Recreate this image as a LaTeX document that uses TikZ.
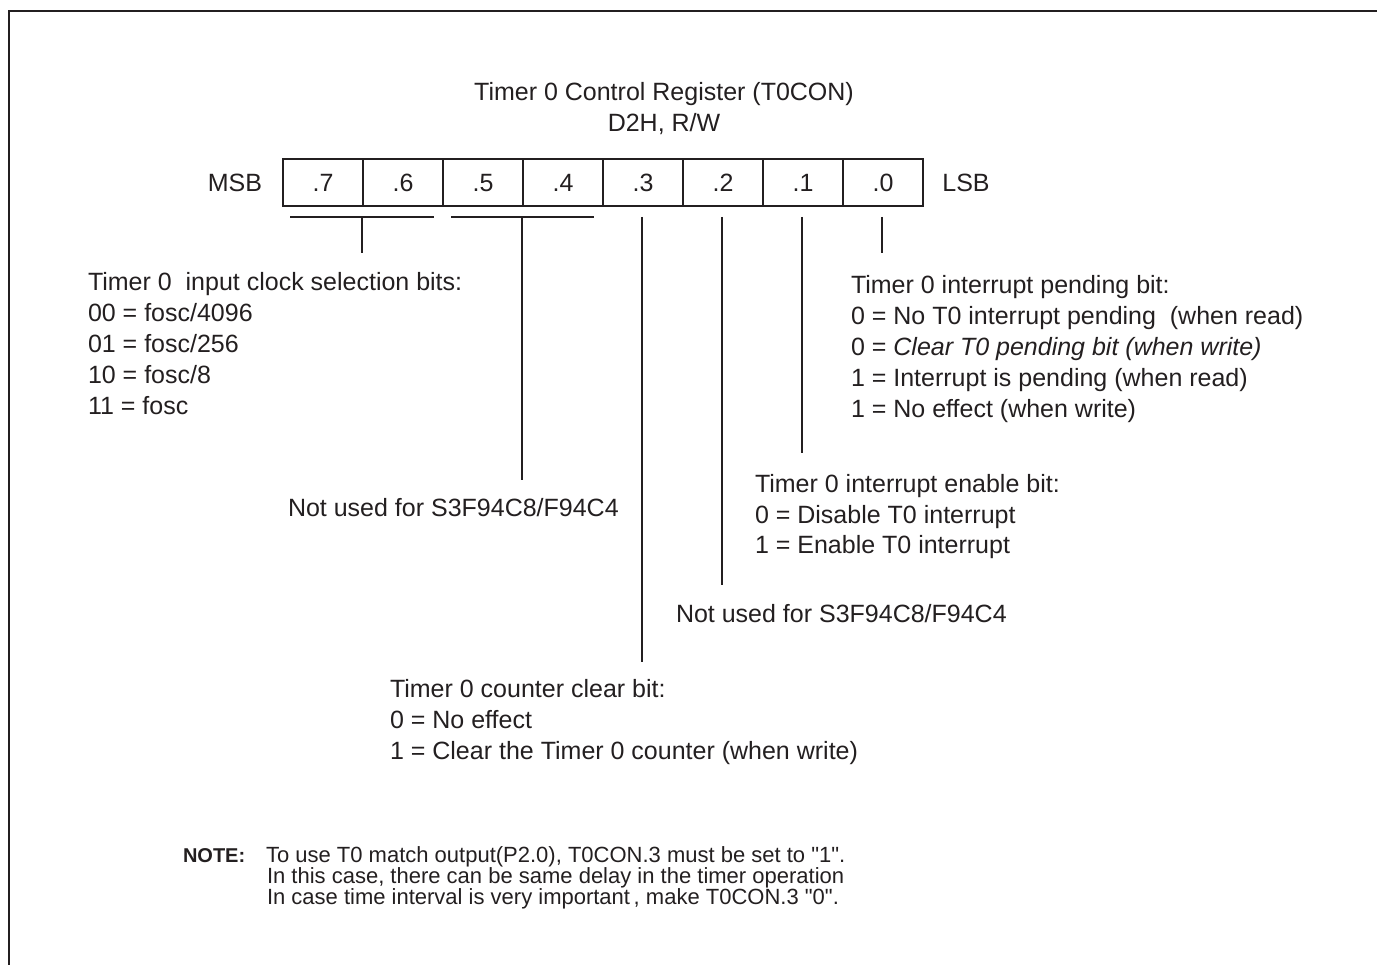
\documentclass[tikz,border=0pt]{standalone}
\usepackage{fontspec}
\setmainfont{Liberation Sans}
\definecolor{ink}{HTML}{231F20}
\begin{document}
\begin{tikzpicture}[x=1pt,y=-1pt,
  every node/.style={inner sep=0pt,outer sep=0pt,text=ink},
  txt/.style={font=\fontsize{25}{31}\selectfont,align=left,anchor=base west},
  cell/.style={draw=ink,line width=2pt,minimum width=80pt,minimum height=47pt,
    font=\fontsize{25}{31}\selectfont,text height=18pt,text depth=0pt},
  bar/.style={draw=ink,line width=2.2pt},
  stem/.style={draw=ink,line width=1.5pt},
  notetxt/.style={font=\fontsize{22}{21}\selectfont,align=left,anchor=base west}]
\useasboundingbox (0,0) rectangle (1377,965);
\draw[ink,line width=2.5pt] (9,965) -- (9,11) -- (1377,11);

% multi-line nodes are placed by the baseline of their last line
\node[font=\fontsize{25}{31}\selectfont,align=center,anchor=base] (title) at (664,132)
  {Timer 0 Control Register (T0CON)\\D2H, R/W};

\foreach \b [count=\i from 0] in {7,6,5,4,3,2,1,0}
  \node[cell] (c\b) at (323+80*\i,182.5) {.\b};

\node[font=\fontsize{25}{31}\selectfont,anchor=base] (msb) at (235,192) {MSB};
\node[font=\fontsize{25}{31}\selectfont,anchor=base] (lsb) at (966,192) {LSB};

% texts
\node[txt] (clk) at (88,415) {Timer 0\ \ input clock selection bits:\\00 = fosc/4096\\01 = fosc/256\\10 = fosc/8\\11 = fosc};
\node[txt] (nu54) at (288,517) {Not used for S3F94C8/F94C4};
\node[txt] (pend) at (851,418) {Timer 0 interrupt pending bit:\\0 = No T0 interrupt pending\ \ (when read)\\0 = \textit{Clear T0 pending bit (when write)}\\1 = Interrupt is pending (when read)\\1 = No effect (when write)};
\node[txt] (ena) at (755,554) {Timer 0 interrupt enable bit:\\0 = Disable T0 interrupt\\1 = Enable T0 interrupt};
\node[txt] (nu2) at (676,622) {Not used for S3F94C8/F94C4};
\node[txt] (clr) at (390,759) {Timer 0 counter clear bit:\\0 = No effect\\1 = Clear the Timer 0 counter (when write)};

\node[notetxt,font=\fontsize{20}{21}\selectfont\bfseries] (notehd) at (183,862) {NOTE:};
\node[notetxt] (note) at (266,862) {To use T0 match output(P2.0), T0CON.3 must be set to \textquotedbl 1\textquotedbl.};
\node[notetxt] (note2) at (267,904) {In this case, there can be same delay in the timer operation\\In case time interval is very important\,, make T0CON.3 \textquotedbl 0\textquotedbl.};

% connector coordinates
\coordinate (b76l) at (290,217);
\coordinate (b76r) at (434,217);
\coordinate (b76m) at (362,217);
\coordinate (e76) at (362,253);
\coordinate (b54l) at (451,217);
\coordinate (b54r) at (594,217);
\coordinate (b54m) at (522,217);
\coordinate (e54) at (522,480);
\coordinate (t3) at (642,217);
\coordinate (e3) at (642,662);
\coordinate (t2) at (722,217);
\coordinate (e2) at (722,585);
\coordinate (t1) at (802,217);
\coordinate (e1) at (802,453);
\coordinate (t0) at (882,217);
\coordinate (e0) at (882,253);

\draw[bar] (b76l) -- (b76r);
\draw[stem] (b76m) -- (e76);
\draw[bar] (b54l) -- (b54r);
\draw[stem] (b54m) -- (e54);
\draw[stem] (t3) -- (e3);
\draw[stem] (t2) -- (e2);
\draw[stem] (t1) -- (e1);
\draw[stem] (t0) -- (e0);
\end{tikzpicture}
\end{document}
